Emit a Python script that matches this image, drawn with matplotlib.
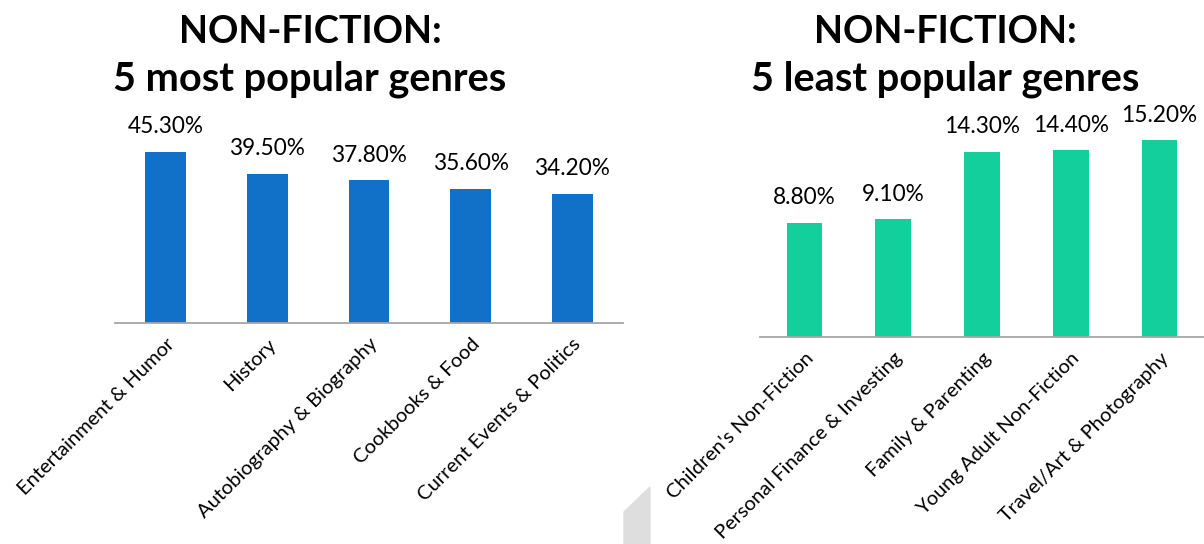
import matplotlib
matplotlib.use("Agg")
import matplotlib.pyplot as plt
from matplotlib.patches import Polygon
import numpy as np

plt.rcParams['font.family'] = ['Lato', 'DejaVu Sans']

top_genres = ["Entertainment & Humor", "History", "Autobiography & Biography",
              "Cookbooks & Food", "Current Events & Politics"]
top_values = [45.3, 39.5, 37.8, 35.6, 34.2]

low_genres = ["Children's Non-Fiction", "Personal Finance & Investing",
              "Family & Parenting", "Young Adult Non-Fiction", "Travel/Art & Photography"]
low_values = [8.8, 9.1, 14.3, 14.4, 15.2]

W, H = 1204, 544
fig = plt.figure(figsize=(W / 100, H / 100), dpi=100)


def px_rect(x0, x1, base, height):
    # rectangle given in pixels measured from the top-left corner
    return [x0 / W, (H - base) / H, (x1 - x0) / W, height / H]


def panel(rect, names, vals, color, ymax):
    ax = fig.add_axes(rect)
    x = np.arange(len(names))
    ax.bar(x, vals, width=0.4, color=color)
    ax.set_xlim(-0.5, len(names) - 0.5)
    ax.set_ylim(0, ymax)
    for s in ["top", "right", "left"]:
        ax.spines[s].set_visible(False)
    ax.spines["bottom"].set_color("#a6a6a6")
    ax.spines["bottom"].set_linewidth(1.3)
    ax.set_yticks([])
    ax.set_xticks(x, names, rotation=45, ha="right", rotation_mode="anchor",
                  fontsize=14.5)
    ax.tick_params(axis="x", length=0, pad=9)
    for i, v in enumerate(vals):
        ax.annotate(f"{v:.2f}%", (i, v), xytext=(0, 25), textcoords="offset pixels",
                    ha="center", va="center", fontsize=16.3, color="black")
    return ax


panel(px_rect(115, 623, 323, 50 * 3.775), top_genres, top_values, "#1170c8", 50)
panel(px_rect(760, 1204, 337, 17 * 12.96), low_genres, low_values, "#13cf9b", 17)

# panel headings
for cx, lines in [(310, ["NON-FICTION:", "5 most popular genres"]),
                  (945, ["NON-FICTION:", "5 least popular genres"])]:
    for base, size, txt in zip([43, 91], [27.2, 28.6], lines):
        fig.text(cx / W, 1 - base / H, txt, ha="center", va="baseline",
                 fontsize=size, fontweight="bold", color="black")

# grey slide decoration at the bottom
pts = [(624, 512), (650, 487), (650, 544), (624, 544)]
fig.patches.append(Polygon([(px / W, 1 - py / H) for px, py in pts], closed=True,
                           transform=fig.transFigure, color="#dedede", zorder=0))

fig.savefig("out.png", dpi=100)
